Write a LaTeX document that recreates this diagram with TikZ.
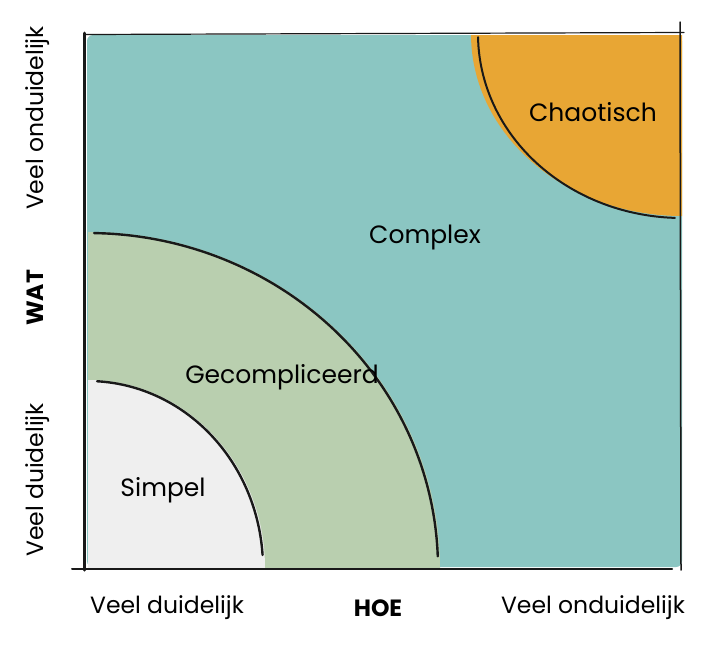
\documentclass[tikz,border=0pt]{standalone}
\usepackage{fontspec}
\setmainfont{Poppins}
\newfontfamily\handfont{Poppins}
\definecolor{teal1}{HTML}{8BC6C2}
\definecolor{green1}{HTML}{B9CFAF}
\definecolor{grey1}{HTML}{EFEFEF}
\definecolor{orange1}{HTML}{E8A634}
\begin{document}
\begin{tikzpicture}[x=1pt,y=-1pt,
  axislabel/.style={font=\fontsize{23.5}{26}\selectfont, text=black, inner sep=0pt},
  axistitle/.style={font=\fontsize{23.5}{26}\selectfont\bfseries, text=black, inner sep=0pt},
  zonelabel/.style={font=\handfont\fontsize{25}{28}\selectfont, text=black, inner sep=0pt},
  arcline/.style={line width=2.4pt, line cap=round, black!90},
  frame/.style={black!90, line cap=round}]
\useasboundingbox (0,0) rectangle (722,654);
% teal background
\fill[teal1, rounded corners=6pt] (87,35) rectangle (682,567);
% quarter regions
\begin{scope}
  \clip (88,35) rectangle (682,567);
  \fill[green1] (88,568) ellipse [x radius=352pt, y radius=336pt];
  \fill[grey1] (88,568) ellipse [x radius=177pt, y radius=188pt];
  \fill[orange1] (682,34) ellipse [x radius=211pt, y radius=182pt];
\end{scope}
% arc lines
\draw[arcline] plot[domain=89:2, samples=60, smooth] ({88+350*cos(\x)},{568-335*sin(\x)});
\draw[arcline] plot[domain=87:4, samples=60, smooth] ({88+175*cos(\x)},{568-187*sin(\x)});
\draw[arcline, line width=2pt] plot[domain=1:88, samples=60, smooth] ({682-204*cos(\x)},{34+184*sin(\x)});
% frame
\draw[frame, line width=3pt] (84,33) -- (84,570);
\draw[frame, line width=2pt] (72,568.5) -- (672,568.5);
\draw[frame, line width=1.2pt] (85,34.5) -- (684,32.5);
\draw[frame, line width=1.5pt] (680,22) -- (681,570);
% axis labels
\node[axislabel] (xl) at (167,608) {Veel duidelijk};
\node[axistitle] (xt) at (378,608) {HOE};
\node[axislabel] (xr) at (593,608) {Veel onduidelijk};
\node[axislabel, rotate=90] (yt) at (38,118) {Veel onduidelijk};
\node[axistitle, rotate=90] (ym) at (35,298) {WAT};
\node[axislabel, rotate=90] (yb) at (38,480) {Veel duidelijk};
% zone labels
\node[zonelabel] (chao) at (593,112) {Chaotisch};
\node[zonelabel] (comp) at (425,237) {Complex};
\node[zonelabel] (geco) at (282,377) {Gecompliceerd};
\node[zonelabel] (simp) at (163,490) {Simpel};
\end{tikzpicture}
\end{document}
